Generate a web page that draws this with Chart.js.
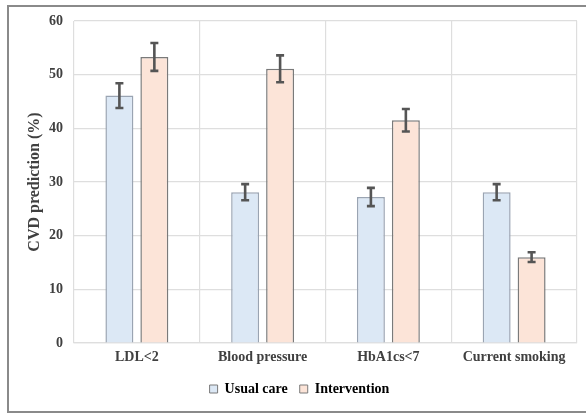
<!DOCTYPE html>
<html>
<head>
<meta charset="UTF-8" />
<title>CVD prediction</title>
<style>
  html, body { margin: 0; padding: 0; background: #fff; }
  .frame {
    position: absolute;
    left: 7px; top: 5px;
    width: 586px; height: 404px;
    border: 2px solid #8a8a8a;
    border-right: none;
  }
  .wrap { position: absolute; left: 0; top: 0; width: 586px; height: 414px; }
</style>
</head>
<body>
<div class="frame"></div>
<div class="wrap"><canvas id="chart" width="586" height="414"></canvas></div>

<script src="https://cdn.jsdelivr.net/npm/chart.js"></script>
<script>
  const categories = ['LDL<2', 'Blood pressure', 'HbA1cs<7', 'Current smoking'];
  const usualCare = [46.1, 28.1, 27.2, 28.1];
  const usualErr = [2.3, 1.5, 1.7, 1.5];
  const intervention = [53.3, 51.1, 41.5, 16.0];
  const interventionErr = [2.6, 2.5, 2.1, 0.9];
  const yTicks = [0, 10, 20, 30, 40, 50, 60];

  const serif = '"Liberation Serif", "DejaVu Serif", serif';
  const textColor = '#404040';

  // draws the error bars from the err arrays
  const errorBars = {
    id: 'errorBars',
    afterDatasetsDraw(chart) {
      const ctx = chart.ctx;
      const y = chart.scales.y;
      const errs = [usualErr, interventionErr];
      ctx.save();
      ctx.strokeStyle = '#555';
      ctx.lineWidth = 2.6;
      chart.data.datasets.forEach((ds, i) => {
        const meta = chart.getDatasetMeta(i);
        meta.data.forEach((bar, j) => {
          const v = ds.data[j], e = errs[i][j];
          const x = bar.x;
          const top = y.getPixelForValue(v + e);
          const bot = y.getPixelForValue(v - e);
          ctx.beginPath();
          ctx.moveTo(x, top); ctx.lineTo(x, bot);
          ctx.moveTo(x - 4, top); ctx.lineTo(x + 4, top);
          ctx.moveTo(x - 4, bot); ctx.lineTo(x + 4, bot);
          ctx.stroke();
        });
      });
      ctx.restore();
    }
  };

  new Chart(document.getElementById('chart'), {
    type: 'bar',
    data: {
      labels: categories,
      datasets: [
        {
          label: 'Usual care',
          data: usualCare,
          backgroundColor: '#dce8f5',
          borderColor: '#9aa4b2',
          borderWidth: 1.5,
          categoryPercentage: 0.556,
          barPercentage: 0.8
        },
        {
          label: 'Intervention',
          data: intervention,
          backgroundColor: '#fce4d8',
          borderColor: '#7a7a7a',
          borderWidth: 1.5,
          categoryPercentage: 0.556,
          barPercentage: 0.8
        }
      ]
    },
    options: {
      responsive: false,
      animation: false,
      layout: { padding: { left: 22, right: 9, top: 21, bottom: 8 } },
      scales: {
        x: {
          afterFit(axis) { axis.height = 27; },
          grid: { offset: true, color: '#dedede', lineWidth: 1.2, drawTicks: false },
          border: { display: true, color: '#dedede', width: 1.2 },
          ticks: { color: textColor, font: { family: serif, size: 14, weight: 'bold' }, padding: 6 }
        },
        y: {
          min: 0, max: 60,
          afterBuildTicks(axis) { axis.ticks = yTicks.map(v => ({ value: v })); },
          afterFit(axis) { axis.width = 52; },
          grid: { color: '#dedede', lineWidth: 1.2, drawTicks: false },
          border: { display: false },
          ticks: { color: textColor, font: { family: serif, size: 14, weight: 'bold' }, padding: 11 },
          title: {
            display: true,
            text: 'CVD prediction (%)',
            color: textColor,
            font: { family: serif, size: 16, weight: 'bold' },
            padding: { top: 3, bottom: 0 }
          }
        }
      },
      plugins: {
        legend: {
          position: 'bottom',
          labels: {
            color: textColor,
            font: { family: serif, size: 14, weight: 'bold' },
            boxWidth: 8, boxHeight: 8,
            padding: 12,
            generateLabels(chart) {
              return chart.data.datasets.map((ds, i) => ({
                text: ds.label,
                fillStyle: ds.backgroundColor,
                strokeStyle: '#7a7a7a',
                lineWidth: 1,
                datasetIndex: i
              }));
            }
          }
        },
        tooltip: { enabled: false }
      }
    },
    plugins: [errorBars]
  });
</script>
</body>
</html>
